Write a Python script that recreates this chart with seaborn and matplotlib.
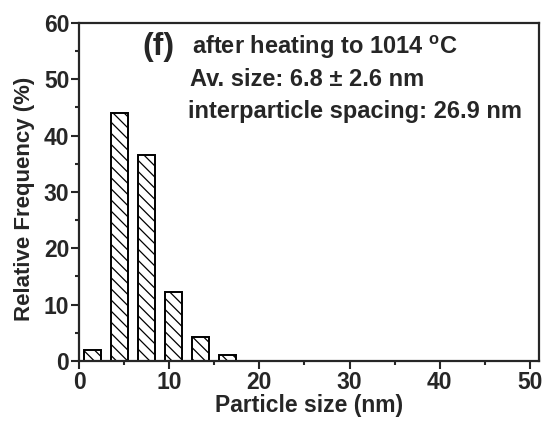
#!/usr/bin/env python3
"""
Particle size histogram after heating, redrawn with seaborn.
"""

import matplotlib
matplotlib.use("Agg")
import matplotlib.pyplot as plt
import pandas as pd
import seaborn as sns

# bin centres (nm) and relative frequency (%)
size_centers = [1.5, 4.5, 7.5, 10.5, 13.5, 16.5]
rel_freq = [2.0, 44.0, 36.5, 12.3, 4.3, 1.0]

x_ticks = [0, 10, 20, 30, 40, 50]
y_ticks = [0, 10, 20, 30, 40, 50, 60]

panel_tag = "(f)"
annotations = [
    r"after heating to 1014 $^{\rm o}$C",
    "Av. size: 6.8 \u00b1 2.6 nm",
    "interparticle spacing: 26.9 nm",
]

sns.set_style("ticks")
plt.rcParams["font.family"] = ["Liberation Sans", "DejaVu Sans"]
plt.rcParams["font.weight"] = "bold"
plt.rcParams["mathtext.fontset"] = "custom"
plt.rcParams["mathtext.rm"] = "Liberation Sans"
plt.rcParams["mathtext.bf"] = "Liberation Sans:bold"
plt.rcParams["hatch.linewidth"] = 0.9

df = pd.DataFrame({"size": size_centers, "freq": rel_freq})

fig = plt.figure(figsize=(5.46, 4.21), dpi=100)
ax = fig.add_axes([0.1447, 0.1425, 0.8425, 0.803])

sns.barplot(
    data=df, x="size", y="freq", native_scale=True, width=0.63,
    color="white", edgecolor="black", linewidth=1.4, hatch="\\\\\\",
    errorbar=None, ax=ax,
)

ax.set_xlim(0, 51)
ax.set_ylim(0, 60)
ax.set_xticks(x_ticks)
ax.set_yticks(y_ticks)
ax.set_xticks([5, 15, 25, 35, 45], minor=True)
ax.set_yticks([5, 15, 25, 35, 45, 55], minor=True)
ax.tick_params(which="major", direction="out", length=6, width=1.5, labelsize=16.5, pad=1)
ax.tick_params(which="minor", direction="out", length=3, width=1.5)
for lbl in ax.get_xticklabels() + ax.get_yticklabels():
    lbl.set_fontweight("bold")
for side in ["top", "right", "bottom", "left"]:
    ax.spines[side].set_visible(True)
    ax.spines[side].set_linewidth(1.6)

ax.set_xlabel("Particle size (nm)", fontsize=16.5, fontweight="bold", labelpad=0)
ax.set_ylabel("Relative Frequency (%)", fontsize=16, fontweight="bold")
ax.yaxis.set_label_coords(-0.095, 0.48)

ax.text(7.0, 55.7, panel_tag, fontsize=23, fontweight="bold", va="center", ha="left")
ax.text(12.5, 55.7, annotations[0], fontsize=17, fontweight="bold", va="center", ha="left")
ax.text(12.3, 50.0, annotations[1], fontsize=17, fontweight="bold", va="center", ha="left")
ax.text(12.1, 44.3, annotations[2], fontsize=17, fontweight="bold", va="center", ha="left")

fig.savefig("out.png", dpi=100)
plt.close(fig)
